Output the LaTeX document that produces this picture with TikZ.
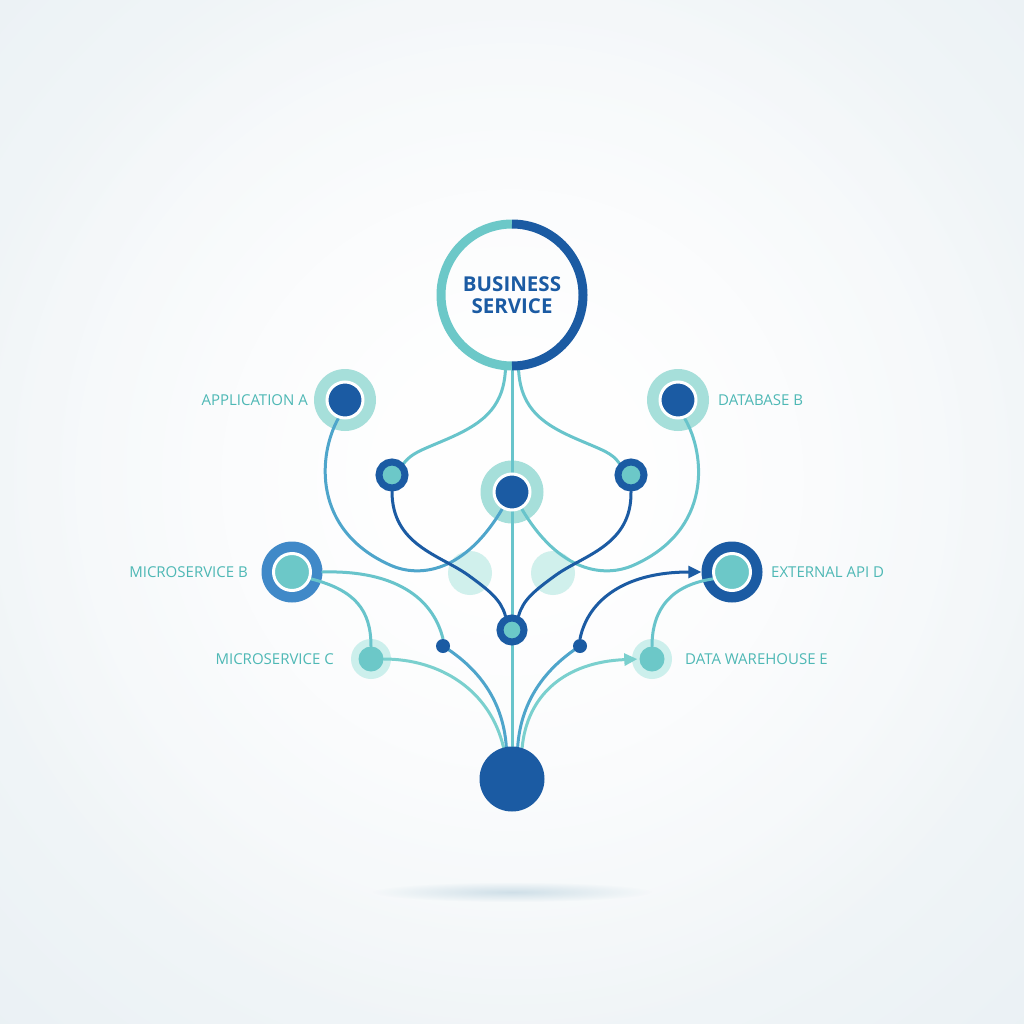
\documentclass[tikz,border=0pt]{standalone}
\usepackage{fontspec}
\setmainfont{Open Sans}
\usetikzlibrary{arrows.meta,fadings}
\definecolor{dblue}{RGB}{27,91,163}
\definecolor{mblue}{RGB}{64,137,200}
\definecolor{tealc}{RGB}{108,200,200}
\definecolor{tline}{RGB}{104,196,203}
\definecolor{bline}{RGB}{78,165,203}
\definecolor{lline}{RGB}{122,208,206}
\definecolor{haloc}{RGB}{166,223,218}
\definecolor{faintc}{RGB}{208,240,236}
\definecolor{smallhalo}{RGB}{204,239,236}
\definecolor{lblc}{RGB}{78,184,181}
\definecolor{bgedge}{RGB}{233,240,244}
\definecolor{shadowc}{RGB}{160,192,210}
\tikzfading[name=myfade, inner color=transparent!0, outer color=transparent!100]
\pgfdeclarelayer{bg}\pgfdeclarelayer{halo}\pgfdeclarelayer{lines}
\pgfsetlayers{bg,halo,lines,main}
\tikzset{
  hnode/.style={circle, inner sep=0, fill=haloc, minimum size=62},
  cnode/.style={circle, inner sep=0, fill=dblue, draw=white, line width=3, minimum size=36},
  tnode/.style={circle, inner sep=0, fill=tealc, draw=white, line width=3, minimum size=37},
  rnode/.style={circle, inner sep=0, fill=tealc, draw=dblue, line width=7, minimum size=26},
  sdot/.style={circle, inner sep=0, fill=dblue, minimum size=14},
  shalo/.style={circle, inner sep=0, fill=smallhalo, minimum size=40},
  score/.style={circle, inner sep=0, fill=tealc, minimum size=25},
  lbl/.style={inner sep=0, text=lblc, font=\fontsize{15}{15}\selectfont},
  conn/.style={line width=3, line cap=round},
  arr/.style={-{Triangle[length=13,width=12]}},
}
\begin{document}
\begin{tikzpicture}[x=1pt,y=-1pt]
\useasboundingbox (0,0) rectangle (1024,1024);
\begin{pgfonlayer}{bg}
  \fill[bgedge] (0,0) rectangle (1024,1024);
  \fill[white, path fading=myfade] (512,470) circle (820);
  \fill[white, path fading=myfade] (512,480) circle (580);
  \fill[shadowc, opacity=0.45, path fading=myfade] (512,892) ellipse [x radius=140, y radius=10];
\end{pgfonlayer}

% main nodes
\node[circle, minimum size=151, inner sep=0, align=center, text=dblue,
      font=\bfseries\fontsize{20.5}{22}\selectfont] (bs) at (512,295) {BUSINESS\\SERVICE};
\draw[tealc, line width=9] (bs.center) ++(0,71) arc[start angle=90, end angle=270, radius=71];
\draw[dblue, line width=9] (bs.center) ++(0,-71) arc[start angle=-90, end angle=90, radius=71];

\node[cnode] (appA) at (345,400) {};
\node[cnode] (dbB) at (678,400) {};
\node[cnode] (cn) at (512,492) {};
\node[rnode] (ls) at (392,475) {};
\node[rnode] (rs) at (631,475) {};
\node[tnode] (msB) at (292,572) {};
\node[tnode] (apiD) at (732,572) {};
\node[score] (msC) at (371,659) {};
\node[score] (dwE) at (652,659) {};
\node[rnode, minimum size=24] (hub) at (512,630) {};
\node[sdot] (dotL) at (443,646) {};
\node[sdot] (dotR) at (580,646) {};
\node[circle, inner sep=0, fill=dblue, minimum size=65] (bot) at (512,779) {};

% labels
\node[lbl, anchor=east] (lA) at (308,400) {APPLICATION A};
\node[lbl, anchor=west] (lB) at (718,400) {DATABASE B};
\node[lbl, anchor=east] (lmB) at (248,572) {MICROSERVICE B};
\node[lbl, anchor=west] (lD) at (771,572) {EXTERNAL API D};
\node[lbl, anchor=east] (lC) at (334,659) {MICROSERVICE C};
\node[lbl, anchor=west] (lE) at (685,659) {DATA WAREHOUSE E};

% halos
\begin{pgfonlayer}{halo}
  \node[hnode] (appAh) at (appA) {};
  \node[hnode] (dbBh) at (dbB) {};
  \node[hnode, minimum size=63] (cnh) at (cn) {};
  \node[hnode, fill=mblue, minimum size=61] (msBh) at (msB) {};
  \node[hnode, fill=dblue, minimum size=61] (apiDh) at (apiD) {};
  \node[shalo] (msCh) at (msC) {};
  \node[shalo] (dwEh) at (dwE) {};
  \node[circle, inner sep=0, fill=faintc, minimum size=44] (fh1) at (470,573) {};
  \node[circle, inner sep=0, fill=faintc, minimum size=44] (fh2) at (553,573) {};
\end{pgfonlayer}

% connectors
\begin{pgfonlayer}{lines}
  % central spine
  \draw[conn, tline] (bs.south) -- (cn.north);
  \draw[conn, tline] (cn.south) -- (hub.north);
  \draw[conn, tline] (hub.south) -- (bot.north);
  % business service to small nodes
  \draw[conn, tline] (bs.265) .. controls (503,410) and (480,425) .. (445,440)
        .. controls (420,450.7) and (412,453) .. (ls.45);
  \draw[conn, tline] (bs.275) .. controls (521,410) and (544,425) .. (579,440)
        .. controls (604,450.7) and (612,453) .. (rs.135);
  % application A / database B to centre node
  \draw[conn, bline] (appA.250) .. controls (318,455) and (312,530) .. (390,565)
        .. controls (420,578.5) and (465,572) .. (cn.240);
  \draw[conn, tline] (dbB.290) .. controls (706,455) and (712,530) .. (634,565)
        .. controls (604,578.5) and (559,572) .. (cn.300);
  % small nodes to hub
  \draw[conn, dblue] (ls.south) .. controls (392,545) and (440,555) .. (468,575)
        .. controls (490,591) and (501,600) .. (hub.115);
  \draw[conn, dblue] (rs.south) .. controls (632,545) and (584,555) .. (556,575)
        .. controls (534,591) and (523,600) .. (hub.65);
  % microservice B
  \draw[conn, tline] (msBh.east) .. controls (395,570) and (433,598) .. (dotL.north);
  \draw[conn, bline] (dotL.center) .. controls (478,668) and (503,700) .. (bot.100);
  \draw[conn, tline] (msB.340) .. controls (355,590) and (371,610) .. (msC.north);
  % microservice C to bottom
  \draw[conn, lline] (msC.east) .. controls (440,659) and (490,690) .. (bot.105);
  % right side
  \draw[conn, dblue, arr] (dotR.north) .. controls (588,600) and (625,572) .. (apiDh.west);
  \draw[conn, bline] (dotR.center) .. controls (546,668) and (521,700) .. (bot.80);
  \draw[conn, lline, arr, shorten >=2] (bot.72) .. controls (527,695) and (565,662) .. (dwE.west);
  \draw[conn, tline] (dwE.north) .. controls (652,608) and (672,585) .. (apiD.200);
\end{pgfonlayer}
\end{tikzpicture}
\end{document}
